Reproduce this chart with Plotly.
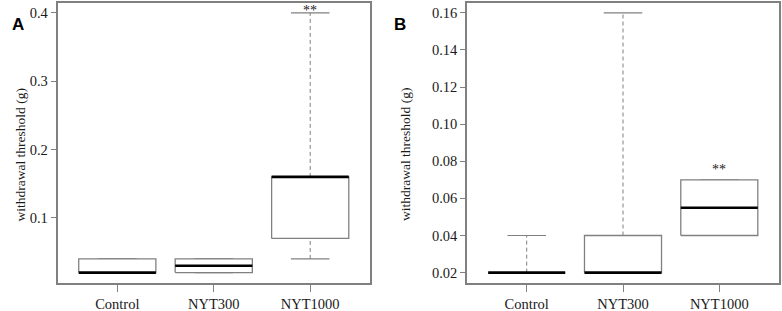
import plotly.graph_objects as go

categories = ["Control", "NYT300", "NYT1000"]

# Panel A statistics
a_lower = [0.02, 0.02, 0.04]
a_q1 = [0.02, 0.02, 0.07]
a_med = [0.02, 0.03, 0.16]
a_q3 = [0.04, 0.04, 0.16]
a_upper = [0.04, 0.04, 0.40]
a_yticks = [0.1, 0.2, 0.3, 0.4]
a_yticklabels = ["0.1", "0.2", "0.3", "0.4"]
a_sig = ["", "", "**"]
a_sig_y = [None, None, 0.4035]

# Panel B statistics
b_lower = [0.02, 0.02, 0.04]
b_q1 = [0.02, 0.02, 0.04]
b_med = [0.02, 0.02, 0.055]
b_q3 = [0.02, 0.04, 0.07]
b_upper = [0.04, 0.16, 0.07]
b_yticks = [0.02, 0.04, 0.06, 0.08, 0.10, 0.12, 0.14, 0.16]
b_yticklabels = ["0.02", "0.04", "0.06", "0.08", "0.10", "0.12", "0.14", "0.16"]
b_sig = ["", "", "**"]
b_sig_y = [None, None, 0.0758]

y_title = "withdrawal threshold (g)"

GRAY = "#808080"
TEXT = "#1a1a1a"
SERIF = "Liberation Serif, Times New Roman, serif"
HALF = 0.4
CAP = 0.2

fig = go.Figure()


def add_panel(xa, ya, lower, q1, med, q3, upper):
    pos = list(range(1, len(categories) + 1))
    bx, by, mx, my, wx, wy, cx, cy = [], [], [], [], [], [], [], []
    for p, lo, a, m, b, up in zip(pos, lower, q1, med, q3, upper):
        bx += [p - HALF, p + HALF, p + HALF, p - HALF, p - HALF, None]
        by += [a, a, b, b, a, None]
        mx += [p - HALF, p + HALF, None]
        my += [m, m, None]
        if up > b:
            wx += [p, p, None]
            wy += [b, up, None]
        if lo < a:
            wx += [p, p, None]
            wy += [lo, a, None]
        cx += [p - CAP, p + CAP, None, p - CAP, p + CAP, None]
        cy += [up, up, None, lo, lo, None]
    common = dict(xaxis=xa, yaxis=ya, mode="lines", showlegend=False, hoverinfo="skip")
    fig.add_trace(go.Scatter(x=wx, y=wy, line=dict(color=GRAY, width=1, dash="4px,3px"), **common))
    fig.add_trace(go.Scatter(x=cx, y=cy, line=dict(color=GRAY, width=1.2), **common))
    fig.add_trace(go.Scatter(x=bx, y=by, line=dict(color=GRAY, width=1.3), fill="toself",
                             fillcolor="white", **common))
    fig.add_trace(go.Scatter(x=mx, y=my, line=dict(color="black", width=2.6), **common))


add_panel("x", "y", a_lower, a_q1, a_med, a_q3, a_upper)
add_panel("x2", "y2", b_lower, b_q1, b_med, b_q3, b_upper)

W, H = 782, 311
ydom = [1 - 283 / H, 1 - 2.5 / H]
tickfont = dict(family=SERIF, size=14.5, color=TEXT)

xcommon = dict(range=[0.38, 3.62], tickvals=[1, 2, 3], ticktext=categories,
               showline=True, mirror=True, linecolor=GRAY, linewidth=1.5,
               ticks="outside", ticklen=7, tickcolor=GRAY, tickwidth=1, automargin=False,
               showgrid=False, zeroline=False, tickfont=tickfont, fixedrange=True)
ycommon = dict(showline=True, mirror=True, linecolor=GRAY, linewidth=1.5,
               ticks="outside", ticklen=5, tickcolor=GRAY, tickwidth=1, automargin=False,
               showgrid=False, zeroline=False, tickfont=tickfont, fixedrange=True)

fig.update_layout(
    template="none",
    width=W, height=H,
    font=dict(family=SERIF, size=14, color=TEXT),
    margin=dict(l=0, r=0, t=0, b=0, autoexpand=False),
    plot_bgcolor="white", paper_bgcolor="white",
    xaxis=dict(domain=[57.5 / W, 370 / W], anchor="y", **xcommon),
    yaxis=dict(domain=ydom, anchor="x", range=[0.0048, 0.4152],
               tickvals=a_yticks, ticktext=a_yticklabels, **ycommon),
    xaxis2=dict(domain=[467 / W, 779 / W], anchor="y2", **xcommon),
    yaxis2=dict(domain=ydom, anchor="x2", range=[0.0144, 0.1656],
                tickvals=b_yticks, ticktext=b_yticklabels, **ycommon),
)

annotations = []
for i, (s, yv) in enumerate(zip(a_sig, a_sig_y)):
    if s:
        annotations.append(dict(x=i + 1, y=yv, xref="x", yref="y", text=s, showarrow=False,
                                font=dict(family=SERIF, size=14, color=TEXT), yanchor="middle"))
for i, (s, yv) in enumerate(zip(b_sig, b_sig_y)):
    if s:
        annotations.append(dict(x=i + 1, y=yv, xref="x2", yref="y2", text=s, showarrow=False,
                                font=dict(family=SERIF, size=14, color=TEXT), yanchor="middle"))
for xp in [10, 405]:
    annotations.append(dict(x=xp / W, y=1 - 155 / H, xref="paper", yref="paper", text=y_title,
                            textangle=-90, showarrow=False,
                            font=dict(family=SERIF, size=13.5, color=TEXT)))
for xp, lab in [(10, "A"), (400, "B")]:
    annotations.append(dict(x=xp / W, y=1 - 13 / H, xref="paper", yref="paper", text="<b>%s</b>" % lab,
                            showarrow=False, font=dict(family="Liberation Sans, Arial, sans-serif",
                                                       size=17, color="black")))
fig.update_layout(annotations=annotations)

fig.write_html("out.html", config={"displayModeBar": False},
               post_script="document.body.style.margin='0';document.body.style.overflow='hidden';")
